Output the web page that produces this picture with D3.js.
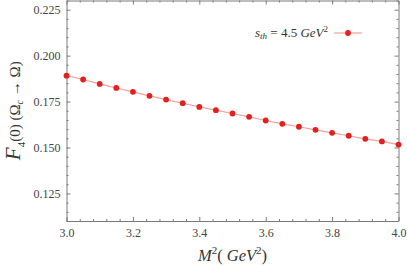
<!DOCTYPE html>
<html><head><meta charset="utf-8">
<script src="https://cdn.jsdelivr.net/npm/d3@7"></script>
<style>body{margin:0;background:#fff}svg{display:block}svg text{font-family:"Liberation Serif","DejaVu Serif",serif}</style>
</head><body>
<script>
const m2 = [3.00,3.05,3.10,3.15,3.20,3.25,3.30,3.35,3.40,3.45,3.50,3.55,3.60,3.65,3.70,3.75,3.80,3.85,3.90,3.95,4.00];
const f4 = [0.1891,0.1870,0.1846,0.1824,0.1803,0.1781,0.1761,0.1741,0.1721,0.1703,0.1685,0.1667,0.1647,0.1629,0.1613,0.1596,0.1580,0.1564,0.1547,0.1533,0.1516];
const xTicks = [3.0,3.2,3.4,3.6,3.8,4.0];
const yTicks = [0.125,0.150,0.175,0.200,0.225];
const xDomain = [3.0,4.0];
const yDomain = [0.11,0.23];

const W=407,H=266;
const L=66.5,R=398.5,T=0.5,B=221;
const svg=d3.select("body").append("svg").attr("width",W).attr("height",H);
const x=d3.scaleLinear().domain(xDomain).range([L,R]);
const y=d3.scaleLinear().domain(yDomain).range([B,T]);
const axisCol="#7a7a7a", txtCol="#444";

const xMinor=d3.range(3.0,4.0001,0.04).filter(v=>!xTicks.some(t=>Math.abs(t-v)<1e-6));
const yMinor=d3.range(0.11,0.2301,0.005).filter(v=>!yTicks.some(t=>Math.abs(t-v)<1e-6));

function drawAxis(axis,tr,major,minor,labels){
  const g=svg.append("g").attr("transform",tr);
  g.call(axis.tickValues(major).tickSizeInner(-4).tickSizeOuter(0).tickFormat(labels?null:""));
  g.attr("font-family",null).attr("font-size",null);
  g.select(".domain").attr("stroke",axisCol);
  g.selectAll(".tick line").attr("stroke",axisCol);
  g.selectAll(".tick text").attr("fill",txtCol).attr("font-size",12)
    .attr("font-family","'Liberation Serif','DejaVu Serif',serif");
  const g2=svg.append("g").attr("transform",tr);
  g2.call(axis.tickValues(minor).tickSizeInner(-2).tickSizeOuter(0).tickFormat(""));
  g2.select(".domain").remove();
  g2.selectAll(".tick line").attr("stroke",axisCol);
  return g;
}
const gx=drawAxis(d3.axisBottom(x),`translate(0,${B})`,xTicks,xMinor,true);
gx.selectAll(".tick text").text(d=>d.toFixed(1)).attr("dy","0.71em").attr("y",7);
drawAxis(d3.axisTop(x),`translate(0,${T})`,xTicks,xMinor,false);
const gy=drawAxis(d3.axisLeft(y),`translate(${L},0)`,yTicks,yMinor,true);
gy.selectAll(".tick text").text(d=>d.toFixed(3)).attr("x",-6);
drawAxis(d3.axisRight(y),`translate(${R},0)`,yTicks,yMinor,false);

const lineCol="#f4a09a", ptCol="#e3201b";
svg.append("path").datum(m2.map((v,i)=>[v,f4[i]]))
  .attr("d",d3.line().x(d=>x(d[0])).y(d=>y(d[1])))
  .attr("fill","none").attr("stroke",lineCol).attr("stroke-width",1.2);
svg.append("g").selectAll("circle").data(m2.map((v,i)=>[v,f4[i]])).join("circle")
  .attr("cx",d=>x(d[0])).attr("cy",d=>y(d[1])).attr("r",2.9).attr("fill",ptCol);

const lg=svg.append("g");
lg.append("line").attr("x1",334).attr("x2",362).attr("y1",33).attr("y2",33).attr("stroke",lineCol).attr("stroke-width",1.2);
lg.append("circle").attr("cx",348).attr("cy",33).attr("r",2.9).attr("fill",ptCol);
const lt=lg.append("text").attr("x",328).attr("y",37).attr("text-anchor","end").attr("font-size",13).attr("fill","#333");
lt.append("tspan").attr("font-style","italic").text("s");
lt.append("tspan").attr("font-style","italic").attr("font-size",9).attr("dy",2).text("th");
lt.append("tspan").attr("dy",-2).text(" = 4.5 ");
lt.append("tspan").attr("font-style","italic").text("GeV");
lt.append("tspan").attr("font-size",9).attr("dy",-5).text("2");

const xl=svg.append("text").attr("x",(L+R)/2).attr("y",261).attr("text-anchor","middle").attr("font-size",16.5).attr("fill","#333");
xl.append("tspan").attr("font-style","italic").text("M");
xl.append("tspan").attr("font-size",11).attr("dy",-7).text("2");
xl.append("tspan").attr("dy",7).text("( ");
xl.append("tspan").attr("font-style","italic").text("GeV");
xl.append("tspan").attr("font-size",11).attr("dy",-7).text("2");
xl.append("tspan").attr("dy",7).text(")");

const yl=svg.append("text").attr("transform",`translate(20,${(T+B)/2}) rotate(-90)`).attr("text-anchor","middle").attr("font-size",15).attr("fill","#333");
yl.append("tspan").attr("font-style","italic").attr("font-size",21).text("F");
yl.append("tspan").attr("font-size",11).attr("dy",5).text("4");
yl.append("tspan").attr("dy",-5).text("(0) (Ω");
yl.append("tspan").attr("font-style","italic").attr("font-size",10).attr("dy",3).text("c");
yl.append("tspan").attr("dy",-3).text(" → Ω)");
</script>
</body></html>
